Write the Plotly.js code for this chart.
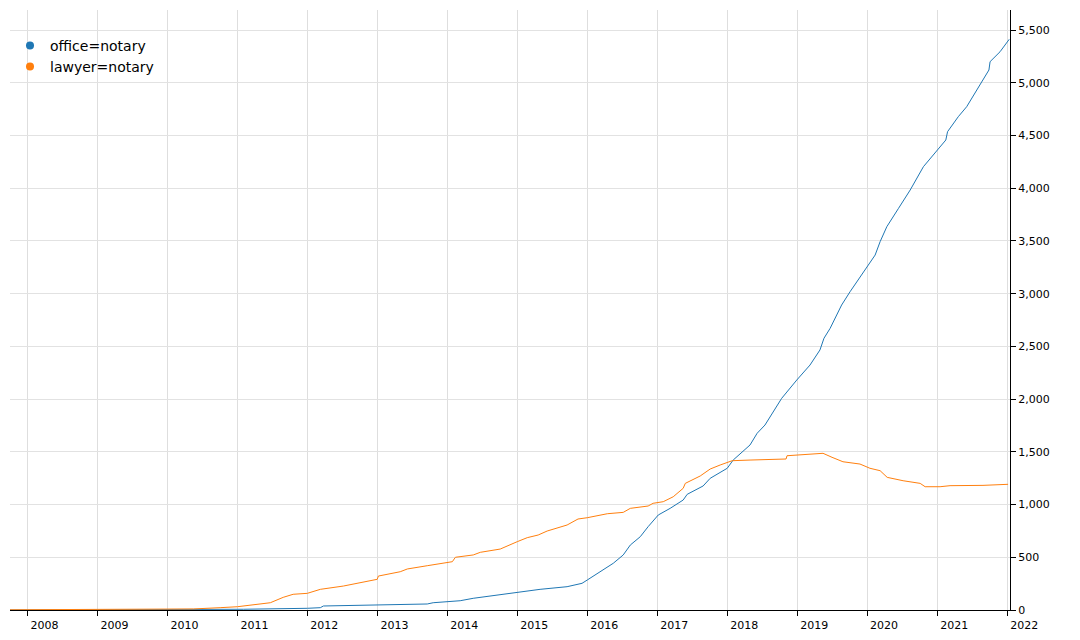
<!DOCTYPE html>
<html>
<head>
<meta charset="utf-8">
<script src="https://cdn.plot.ly/plotly-3.0.1.min.js"></script>
<style>
  html, body { margin: 0; padding: 0; background: #fff; }
  #chart { width: 1080px; height: 640px; }
</style>
</head>
<body>
<div id="chart"></div>
<script>
// lawyer=notary
const lawyerDates = [
  '2007-10-02', '2009-11-24', '2010-05-16', '2010-10-03', '2011-01-01', '2011-06-22',
  '2011-08-28', '2011-10-19', '2012-01-01', '2012-03-09', '2012-07-07', '2012-12-31',
  '2013-01-06', '2013-04-30', '2013-06-06', '2013-09-18', '2014-01-01', '2014-01-27',
  '2014-02-12', '2014-05-16', '2014-06-22', '2014-10-04', '2015-01-01', '2015-02-22',
  '2015-04-20', '2015-06-06', '2015-09-18', '2015-11-14', '2016-01-01', '2016-04-15',
  '2016-07-07', '2016-08-13', '2016-11-14', '2016-12-10', '2017-02-01', '2017-03-25',
  '2017-05-16', '2017-05-27', '2017-08-13', '2017-10-04', '2017-11-25', '2018-01-27',
  '2018-04-30', '2018-11-04', '2018-11-09', '2019-03-09', '2019-05-16', '2019-07-02',
  '2019-08-28', '2019-11-25', '2020-01-16', '2020-03-09', '2020-04-15', '2020-07-07',
  '2020-10-04', '2020-10-30', '2021-01-16', '2021-03-09', '2021-08-28', '2022-01-06'
];
const lawyerCounts = [
  2, 7, 10, 22, 31, 69,
  120, 149, 158, 196, 227, 291,
  322, 363, 389, 420, 446, 458,
  500, 522, 547, 578, 648, 686,
  711, 749, 806, 863, 875, 913,
  926, 964, 986, 1012, 1027, 1074,
  1154, 1201, 1271, 1337, 1375, 1416,
  1422, 1432, 1463, 1476, 1486, 1448,
  1406, 1384, 1344, 1321, 1258, 1226,
  1201, 1169, 1169, 1179, 1182, 1192
];

// office=notary
const officeDates = [
  '2007-10-02', '2010-09-18', '2011-02-01', '2012-01-01', '2012-03-09', '2012-03-25',
  '2012-10-04', '2013-01-01', '2013-09-18', '2013-10-19', '2013-11-25', '2014-03-09',
  '2014-05-16', '2015-01-01', '2015-04-30', '2015-09-18', '2015-12-05', '2016-01-01',
  '2016-03-25', '2016-05-16', '2016-07-07', '2016-08-13', '2016-10-04', '2016-11-14',
  '2017-01-06', '2017-03-09', '2017-05-16', '2017-06-06', '2017-08-28', '2017-10-04',
  '2018-01-01', '2018-02-01', '2018-04-30', '2018-06-06', '2018-07-17', '2018-08-13',
  '2018-10-12', '2018-12-30', '2019-03-09', '2019-04-30', '2019-05-21', '2019-06-22',
  '2019-08-21', '2019-10-04', '2019-12-30', '2020-02-12', '2020-03-09', '2020-04-13',
  '2020-06-13', '2020-08-13', '2020-10-21', '2021-01-08', '2021-02-15', '2021-02-24',
  '2021-04-21', '2021-06-04', '2021-08-04', '2021-09-28', '2021-10-04', '2021-11-25',
  '2022-01-12'
];
const officeCounts = [
  0, 1, 7, 16, 22, 38,
  47, 47, 57, 69, 73, 88,
  111, 164, 196, 221, 253, 284,
  379, 443, 522, 616, 695, 790,
  901, 964, 1043, 1097, 1176, 1249,
  1344, 1422, 1565, 1676, 1754, 1833,
  2007, 2181, 2323, 2466, 2577, 2671,
  2892, 3018, 3256, 3366, 3493, 3635,
  3809, 3983, 4204, 4378, 4457, 4536,
  4678, 4773, 4963, 5121, 5200, 5294,
  5412
];

const seriesNames = ['office=notary', 'lawyer=notary'];
const seriesColors = ['#1f77b4', '#ff7f0e'];

const lineTraces = [
  { x: officeDates, y: officeCounts, name: seriesNames[0], color: seriesColors[0] },
  { x: lawyerDates, y: lawyerCounts, name: seriesNames[1], color: seriesColors[1] },
].map(s => ({
  x: s.x, y: s.y, type: 'scatter', mode: 'lines', name: s.name,
  legendgroup: s.name, showlegend: false,
  line: { color: s.color, width: 1 }, hoverinfo: 'x+y'
}));

// kropki w legendzie
const legendTraces = seriesNames.map((n, i) => ({
  x: [null], y: [null], type: 'scatter', mode: 'markers', name: n,
  legendgroup: n, marker: { color: seriesColors[i], size: 8 }
}));

Plotly.newPlot('chart', [...lineTraces, ...legendTraces], {
  width: 1080, height: 640,
  paper_bgcolor: '#fff', plot_bgcolor: '#fff',
  margin: { l: 10, r: 70, t: 10, b: 30 },
  font: { family: 'DejaVu Sans, sans-serif', size: 11, color: '#000' },
  xaxis: {
    type: 'date',
    range: ['2007-10-02', '2022-01-16'],
    tick0: '2008-01-01', dtick: 'M12', tickformat: '%Y',
    ticks: 'outside', ticklen: 5, tickcolor: '#000',
    ticklabelshift: 17,
    showline: true, linecolor: '#000', linewidth: 1,
    showgrid: true, gridcolor: '#dedede', gridwidth: 1,
    zeroline: false
  },
  yaxis: {
    side: 'right',
    range: [0, 5690],
    dtick: 500, tickformat: ',d',
    ticks: 'outside', ticklen: 5, tickcolor: '#000',
    showline: true, linecolor: '#000', linewidth: 1,
    showgrid: true, gridcolor: '#e2e2e2', gridwidth: 1,
    zeroline: false
  },
  showlegend: true,
  legend: {
    x: 0, xanchor: 'left', y: 0.967, yanchor: 'top',
    bgcolor: 'rgba(0,0,0,0)', borderwidth: 0,
    font: { family: 'DejaVu Sans, sans-serif', size: 14, color: '#000' },
    tracegroupgap: 0
  }
}, { displayModeBar: false, responsive: false });
</script>
</body>
</html>
